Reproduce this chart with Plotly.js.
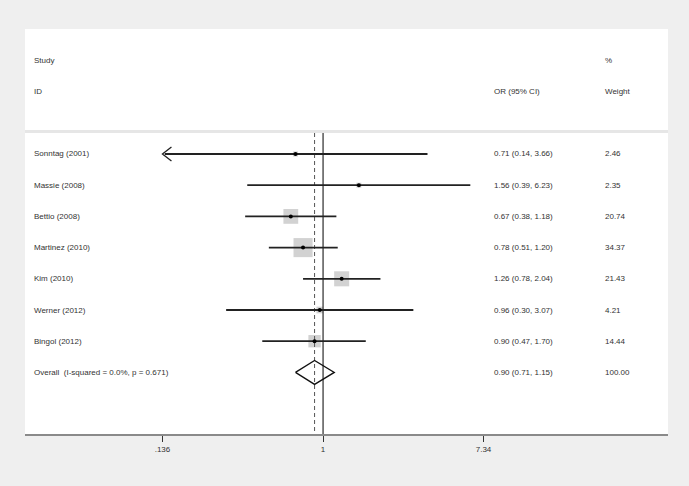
<!DOCTYPE html>
<html>
<head>
<meta charset="utf-8">
<script src="https://cdn.plot.ly/plotly-3.0.1.min.js"></script>
<style>html,body{margin:0;padding:0;background:#efefef;}#chart{width:689px;height:486px;}</style>
</head>
<body>
<div id="chart"></div>
<script>
// ---- data ----
var studies = ['Sonntag (2001)', 'Massie (2008)', 'Bettio (2008)', 'Martinez (2010)', 'Kim (2010)', 'Werner (2012)', 'Bingol (2012)'];
var oddsRatio = [0.71, 1.56, 0.67, 0.78, 1.26, 0.96, 0.90];
var ciLower = [0.14, 0.39, 0.38, 0.51, 0.78, 0.30, 0.47];
var ciUpper = [3.66, 6.23, 1.18, 1.20, 2.04, 3.07, 1.70];
var weights = [2.46, 2.35, 20.74, 34.37, 21.43, 4.21, 14.44];
var overallLabel = 'Overall\u00a0 (I-squared = 0.0%, p = 0.671)';
var overallOR = 0.90;
var overallLower = 0.71;
var overallUpper = 1.15;
var overallWeight = 100.00;
var xTickVals = [0.136, 1, 7.34];
var xTickText = ['.136', '1', '7.34'];
var headerLeft = ['Study', 'ID'];
var headerOR = 'OR (95% CI)';
var headerWeight = ['%', 'Weight'];

// ---- layout helpers ----
var rows = studies.map(function (_, i) { return i; });
var overallRow = studies.length;
var yTop = -0.673, yBottom = 8.974;
var FONT = 'Liberation Sans, Arial, sans-serif';
var TXT = '#333333';
function fmt(v) { return v.toFixed(2); }
function ciText(o, l, u) { return fmt(o) + ' (' + fmt(l) + ', ' + fmt(u) + ')'; }

var traces = [];
// weight boxes
traces.push({
  type: 'scatter', mode: 'markers', x: oddsRatio, y: rows,
  marker: { symbol: 'square', color: '#bfbfbf', size: weights.map(function (w) { return 3.25 * Math.sqrt(w); }), line: { width: 0 } },
  hoverinfo: 'skip', showlegend: false
});
// reference line at 1 (no effect)
traces.push({
  type: 'scatter', mode: 'lines', x: [xTickVals[1], xTickVals[1]], y: [yTop, yBottom],
  line: { color: '#000000', width: 1 }, hoverinfo: 'skip', showlegend: false
});
// dashed line at overall estimate
traces.push({
  type: 'scatter', mode: 'lines', x: [overallOR, overallOR], y: [yTop, yBottom],
  line: { color: '#555555', width: 1, dash: '4px,3px' }, hoverinfo: 'skip', showlegend: false
});
// CI lines + point estimates
traces.push({
  type: 'scatter', mode: 'markers', x: oddsRatio, y: rows,
  marker: { symbol: 'circle', color: '#000000', size: 4 },
  error_x: {
    type: 'data', symmetric: false,
    array: ciUpper.map(function (u, i) { return u - oddsRatio[i]; }),
    arrayminus: ciLower.map(function (l, i) { return oddsRatio[i] - l; }),
    width: 0, thickness: 1.8, color: '#222222'
  },
  hoverinfo: 'skip', showlegend: false
});
// overall diamond
var dh = 0.385;
traces.push({
  type: 'scatter', mode: 'lines',
  x: [overallLower, overallOR, overallUpper, overallOR, overallLower],
  y: [overallRow, overallRow - dh, overallRow, overallRow + dh, overallRow],
  line: { color: '#111111', width: 1.3 }, hoverinfo: 'skip', showlegend: false
});

var annotations = [];
function addText(xp, y, t) {
  annotations.push({ xref: 'paper', yref: 'y', x: xp, y: y, text: t, showarrow: false,
    xanchor: 'left', yanchor: 'middle', font: { family: FONT, size: 8, color: TXT } });
}
var xName = 0.0109, xCI = 0.7263, xW = 0.899;
addText(xName, -3, headerLeft[0]);
addText(xName, -2, headerLeft[1]);
addText(xCI, -2, headerOR);
addText(xW, -3, headerWeight[0]);
addText(xW, -2, headerWeight[1]);
studies.forEach(function (s, i) {
  addText(xName, i, s);
  addText(xCI, i, ciText(oddsRatio[i], ciLower[i], ciUpper[i]));
  addText(xW, i, fmt(weights[i]));
});
addText(xName, overallRow, overallLabel);
addText(xCI, overallRow, ciText(overallOR, overallLower, overallUpper));
addText(xW, overallRow, fmt(overallWeight));

var shapes = [
  { type: 'line', xref: 'paper', yref: 'y', x0: 0, x1: 1, y0: -0.721, y1: -0.721,
    line: { color: '#e6e6e6', width: 3 } }
];
// open arrowhead where the CI runs past the lower axis limit
ciLower.forEach(function (l, i) {
  if (l <= 0.14 + 1e-9) {
    shapes.push({ type: 'path', xref: 'x', yref: 'y', xsizemode: 'pixel', ysizemode: 'pixel',
      xanchor: xTickVals[0], yanchor: i, path: 'M 9,7 L 0,0 L 9,-7',
      line: { color: '#222222', width: 1.3 } });
  }
});

var layout = {
  width: 689, height: 486,
  margin: { l: 25, r: 21, t: 29, b: 52, pad: 0 },
  paper_bgcolor: '#efefef', plot_bgcolor: '#ffffff',
  font: { family: FONT, size: 8, color: TXT },
  showlegend: false,
  xaxis: {
    type: 'log', range: [-1.608, 1.861], tickvals: xTickVals, ticktext: xTickText,
    showgrid: false, zeroline: false, showline: true, linecolor: '#8a8a8a', linewidth: 2,
    ticks: 'outside', ticklen: 6, tickcolor: '#333333', tickwidth: 1,
    tickfont: { family: FONT, size: 8, color: TXT }, fixedrange: true
  },
  yaxis: { range: [yBottom, -4.006], visible: false, showgrid: false, zeroline: false, fixedrange: true },
  shapes: shapes,
  annotations: annotations
};

Plotly.newPlot('chart', traces, layout, { displayModeBar: false, staticPlot: true });
</script>
</body>
</html>
